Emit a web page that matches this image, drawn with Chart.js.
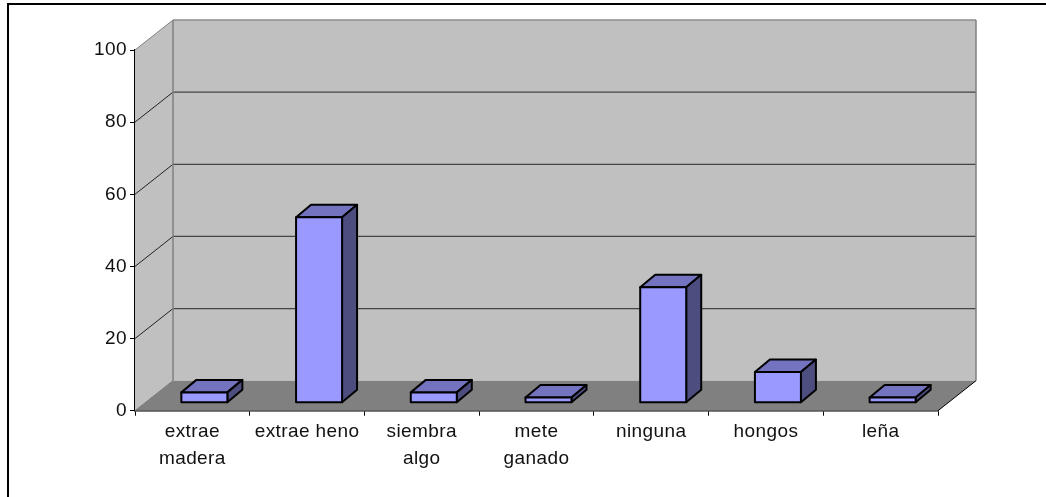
<!DOCTYPE html>
<html><head><meta charset="utf-8">
<style>html,body{margin:0;padding:0;background:#fff;overflow:hidden}canvas{display:block}</style>
<script src="https://cdn.jsdelivr.net/npm/chart.js@4"></script>
</head><body>
<canvas id="c" width="1046" height="497" style="width:1046px;height:497px"></canvas>
<script>
const categories = [['extrae','madera'],'extrae heno',['siembra','algo'],['mete','ganado'],'ninguna','hongos','leña'];
const values = [2.86, 51.4, 2.86, 1.43, 32, 8.5, 1.43];
const yTicks = [0, 20, 40, 60, 80, 100];

const WALL_DX = 38, WALL_DY = 30;   // depth of the chart box
const BAR_DX = 12, BAR_DY = 8;      // bar front plane inside the box
const BAR_DEPTH_X = 15, BAR_DEPTH_Y = 12.5;

function poly(ctx, pts, fill, stroke, lw) {
  ctx.beginPath();
  pts.forEach((p, i) => i ? ctx.lineTo(p[0], p[1]) : ctx.moveTo(p[0], p[1]));
  ctx.closePath();
  if (fill) { ctx.fillStyle = fill; ctx.fill(); }
  if (stroke) { ctx.strokeStyle = stroke; ctx.lineWidth = lw || 1; ctx.stroke(); }
}
function line(ctx, x1, y1, x2, y2, color, lw) {
  ctx.beginPath(); ctx.moveTo(x1, y1); ctx.lineTo(x2, y2);
  ctx.strokeStyle = color; ctx.lineWidth = lw; ctx.stroke();
}

const box3d = {
  id: 'box3d',
  beforeDraw(chart) {
    const { ctx } = chart;
    ctx.letterSpacing = '0.4px';
    ctx.save();
    ctx.fillStyle = '#000';
    ctx.fillRect(8, 3, 1038, 2);
    ctx.fillRect(7, 3, 2, 494);
    ctx.restore();
  },
  beforeDatasetsDraw(chart) {
    const { ctx, chartArea: a, scales } = chart;
    const y = scales.y;
    const y0 = y.getPixelForValue(0), y100 = y.getPixelForValue(100);
    const L = a.left, R = a.right;
    ctx.save();
    poly(ctx, [[L + WALL_DX, y100 - WALL_DY], [R + WALL_DX, y100 - WALL_DY], [R + WALL_DX, y0 - WALL_DY], [L + WALL_DX, y0 - WALL_DY]], '#C0C0C0');
    poly(ctx, [[L, y100], [L + WALL_DX, y100 - WALL_DY], [L + WALL_DX, y0 - WALL_DY], [L, y0]], '#C0C0C0');
    poly(ctx, [[L, y0], [L + WALL_DX, y0 - WALL_DY], [R + WALL_DX, y0 - WALL_DY], [R, y0]], '#808080');
    yTicks.forEach(v => {
      if (v === 0 || v === 100) return;
      const p = y.getPixelForValue(v);
      line(ctx, L, p, L + WALL_DX, p - WALL_DY, '#222', 1);
      line(ctx, L + WALL_DX, p - WALL_DY, R + WALL_DX, p - WALL_DY, '#444', 1.3);
    });
    line(ctx, L, y100, L + WALL_DX, y100 - WALL_DY, '#808080', 1);
    line(ctx, L + WALL_DX, y100 - WALL_DY, R + WALL_DX, y100 - WALL_DY, '#8c8c8c', 1.5);
    line(ctx, L + WALL_DX, y100 - WALL_DY, L + WALL_DX, y0 - WALL_DY, '#808080', 1.5);
    line(ctx, R + WALL_DX, y100 - WALL_DY, R + WALL_DX, y0 - WALL_DY, '#808080', 1.5);
    line(ctx, L, y0, L + WALL_DX, y0 - WALL_DY, '#777', 1);
    line(ctx, R, y0, R + WALL_DX, y0 - WALL_DY, '#000', 1);
    ctx.restore();
  },
  beforeDatasetDraw(chart) {
    const { ctx } = chart;
    ctx.save();
    ctx.translate(BAR_DX, -BAR_DY);
    ctx.lineJoin = 'round';
    chart.getDatasetMeta(0).data.forEach(bar => {
      const l = bar.x - bar.width / 2, r = bar.x + bar.width / 2, t = bar.y, b = bar.base;
      poly(ctx, [[l, t], [l + BAR_DEPTH_X, t - BAR_DEPTH_Y], [r + BAR_DEPTH_X, t - BAR_DEPTH_Y], [r, t]], '#7373BF', '#000', 2);
      poly(ctx, [[r, t], [r + BAR_DEPTH_X, t - BAR_DEPTH_Y], [r + BAR_DEPTH_X, b - BAR_DEPTH_Y], [r, b]], '#4D4D80', '#000', 2);
    });
  },
  afterDatasetDraw(chart) {
    const { ctx } = chart;
    chart.getDatasetMeta(0).data.forEach(bar => {
      const l = bar.x - bar.width / 2, r = bar.x + bar.width / 2, t = bar.y, b = bar.base;
      poly(ctx, [[l, t], [r, t], [r, b], [l, b]], null, '#000', 2);
    });
    ctx.restore();
  }
};

new Chart(document.getElementById('c'), {
  type: 'bar',
  data: { labels: categories, datasets: [{
    data: values,
    backgroundColor: '#9999FF',
    borderWidth: 0,
    barThickness: 46
  }] },
  plugins: [box3d],
  options: {
    responsive: false,
    animation: false,
    devicePixelRatio: 1,
    layout: { padding: { left: 0, top: 50, right: 108, bottom: 0 } },
    plugins: { legend: { display: false }, tooltip: { enabled: false }, title: { display: false } },
    scales: {
      x: {
        afterFit(s) { s.height = 86.3; },
        grid: { drawOnChartArea: false, drawTicks: true, tickLength: 5, color: '#000', offset: true },
        border: { display: true, color: '#000', width: 1.5 },
        ticks: { color: '#111', font: { family: '"Liberation Sans", Arial, sans-serif', size: 19, lineHeight: 1.42 }, maxRotation: 0, autoSkip: false, padding: 3 }
      },
      y: {
        min: 0, max: 100,
        afterFit(s) { s.width = 135; },
        afterBuildTicks(s) { s.ticks = yTicks.map(v => ({ value: v })); },
        grid: { drawOnChartArea: false, drawTicks: true, tickLength: 5, color: '#000' },
        border: { display: true, color: '#000', width: 1.5 },
        ticks: { color: '#111', font: { family: '"Liberation Sans", Arial, sans-serif', size: 19 }, padding: 3 }
      }
    }
  }
});
</script>
</body></html>
